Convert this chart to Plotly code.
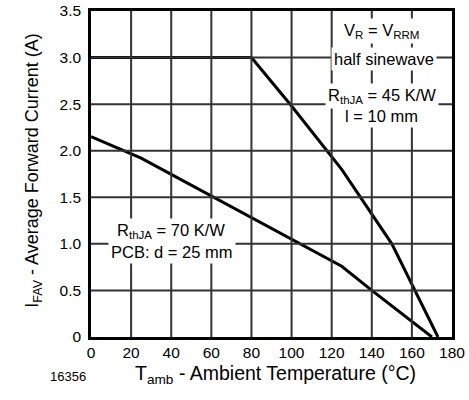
import plotly.graph_objects as go

# Data
t_45 = [0, 80, 100, 125, 150, 173]
i_45 = [3.0, 3.0, 2.48, 1.8, 1.0, 0.0]

t_70 = [0, 25, 125, 140, 170]
i_70 = [2.15, 1.92, 0.76, 0.5, 0.0]

x_ticks = [0, 20, 40, 60, 80, 100, 120, 140, 160, 180]
y_ticks = [0, 0.5, 1.0, 1.5, 2.0, 2.5, 3.0, 3.5]
y_ticktext = ["0", "0.5", "1.0", "1.5", "2.0", "2.5", "3.0", "3.5"]

FONT = "Liberation Sans, Arial, Helvetica, sans-serif"
GRID = "#333333"

fig = go.Figure()

fig.add_trace(go.Scatter(x=t_45, y=i_45, mode="lines",
                         line=dict(color="black", width=3), showlegend=False))
fig.add_trace(go.Scatter(x=t_70, y=i_70, mode="lines",
                         line=dict(color="black", width=3), showlegend=False))

# grid lines at tick positions
for xv in x_ticks[1:-1]:
    fig.add_shape(type="line", xref="x", yref="paper", x0=xv, x1=xv, y0=0, y1=1,
                  line=dict(color=GRID, width=2), layer="above")
for yv in y_ticks[1:-1]:
    fig.add_shape(type="line", xref="paper", yref="y", x0=0, x1=1, y0=yv, y1=yv,
                  line=dict(color=GRID, width=2), layer="above")

labels = [
    (145, 3.28, "V<sub>R</sub> = V<sub>RRM</sub>"),
    (146, 2.99, "half sinewave"),
    (145, 2.59, "R<sub>thJA</sub> = 45 K/W"),
    (145, 2.37, "l = 10 mm"),
    (40, 1.14, "R<sub>thJA</sub> = 70 K/W"),
    (40.5, 0.91, "PCB: d = 25 mm"),
]
for x, y, txt in labels:
    fig.add_annotation(x=x, y=y, xref="x", yref="y", text=txt, showarrow=False,
                       bgcolor="white", borderpad=2,
                       font=dict(family=FONT, size=16.5, color="black"))

fig.add_annotation(x=-0.195, y=0.51, xref="paper", yref="paper",
                   text="I<sub>FAV</sub> - Average Forward Current (A)",
                   textangle=-90, showarrow=False,
                   font=dict(family=FONT, size=18, color="black"))
fig.add_annotation(x=0.51, y=-0.16, xref="paper", yref="paper",
                   text="T<sub>amb</sub> - Ambient Temperature (°C)",
                   showarrow=False,
                   font=dict(family=FONT, size=19.5, color="black"))
fig.add_annotation(x=-0.119, y=-0.15, xref="paper", yref="paper",
                   text="16356", showarrow=False,
                   font=dict(family=FONT, size=13, color="black"))

fig.update_layout(
    template="none",
    width=469, height=400,
    margin=dict(l=91, r=17, t=11, b=63, pad=0),
    paper_bgcolor="white", plot_bgcolor="white",
    xaxis=dict(range=[0, 180], tickmode="array", tickvals=x_ticks,
               showgrid=False, zeroline=False,
               showline=True, linecolor="black", linewidth=2.5, mirror=True,
               ticks="", tickfont=dict(family=FONT, size=15.5, color="black")),
    yaxis=dict(range=[0, 3.5], tickmode="array", tickvals=y_ticks, ticktext=y_ticktext,
               showgrid=False, zeroline=False,
               showline=True, linecolor="black", linewidth=2.5, mirror=True,
               ticks="", ticklabelstandoff=4,
               tickfont=dict(family=FONT, size=15.5, color="black")),
)

fig.write_html("out.html")
